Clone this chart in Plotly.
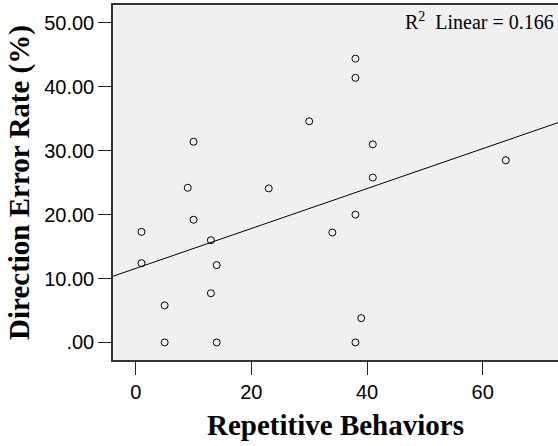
import numpy as np
import plotly.graph_objects as go

# Data
repetitive_behaviors = [10, 9, 23, 38, 38, 30, 41, 41, 64, 38, 1, 1, 10, 13, 14, 13, 5, 5, 14, 34, 39, 38]
direction_error_rate = [31.4, 24.2, 24.1, 44.4, 41.4, 34.6, 31.0, 25.8, 28.5, 20.0, 17.3, 12.4,
                        19.2, 16.0, 12.1, 7.7, 5.8, 0.0, 0.0, 17.2, 3.8, 0.0]
y_tick_vals = [0, 10, 20, 30, 40, 50]
y_tick_text = [".00", "10.00", "20.00", "30.00", "40.00", "50.00"]
x_tick_vals = [0, 20, 40, 60]
r2_label = "R<sup>2</sup>  Linear = 0.166"

x_range = [-3.93, 73.03]
y_range = [-2.75, 52.8]

slope, intercept = np.polyfit(repetitive_behaviors, direction_error_rate, 1)
line_x = np.array(x_range)
line_y = slope * line_x + intercept

fig = go.Figure()
fig.add_trace(go.Scatter(
    x=line_x, y=line_y, mode="lines",
    line=dict(color="black", width=1), hoverinfo="skip", showlegend=False,
))
fig.add_trace(go.Scatter(
    x=repetitive_behaviors, y=direction_error_rate, mode="markers",
    marker=dict(symbol="circle-open", size=7, color="black", line=dict(width=1, color="black")),
    showlegend=False,
))

axis_font = dict(family="Liberation Sans, Arial, sans-serif", size=20, color="black")
title_font = dict(family="Liberation Serif, Times New Roman, serif", size=29, color="black")

fig.update_layout(
    width=558, height=446,
    margin=dict(l=113, r=0, t=5, b=86),
    paper_bgcolor="white",
    plot_bgcolor="#f0f0f0",
    xaxis=dict(
        range=x_range, tickvals=x_tick_vals, ticks="outside", ticklen=13, tickwidth=1.3,
        tickcolor="#222", showgrid=False, zeroline=False, showline=True, linecolor="#333",
        linewidth=1.5, mirror=True, tickfont=axis_font,
        title=dict(text="<b>Repetitive Behaviors</b>", font=title_font, standoff=13),
    ),
    yaxis=dict(
        range=y_range, tickvals=y_tick_vals, ticktext=y_tick_text, ticks="outside", ticklen=13,
        tickwidth=1.3, tickcolor="#222", showgrid=False, zeroline=False, showline=True,
        linecolor="#333", linewidth=1.5, tickfont=axis_font,
        title=dict(text="<b>Direction Error Rate (%)</b>", font=title_font, standoff=6),
    ),
    annotations=[dict(
        text=r2_label, xref="paper", yref="paper", x=0.995, y=0.995,
        xanchor="right", yanchor="top", showarrow=False,
        font=dict(family="Liberation Serif, Times New Roman, serif", size=20, color="black"),
    )],
)

fig.write_html("out.html")
